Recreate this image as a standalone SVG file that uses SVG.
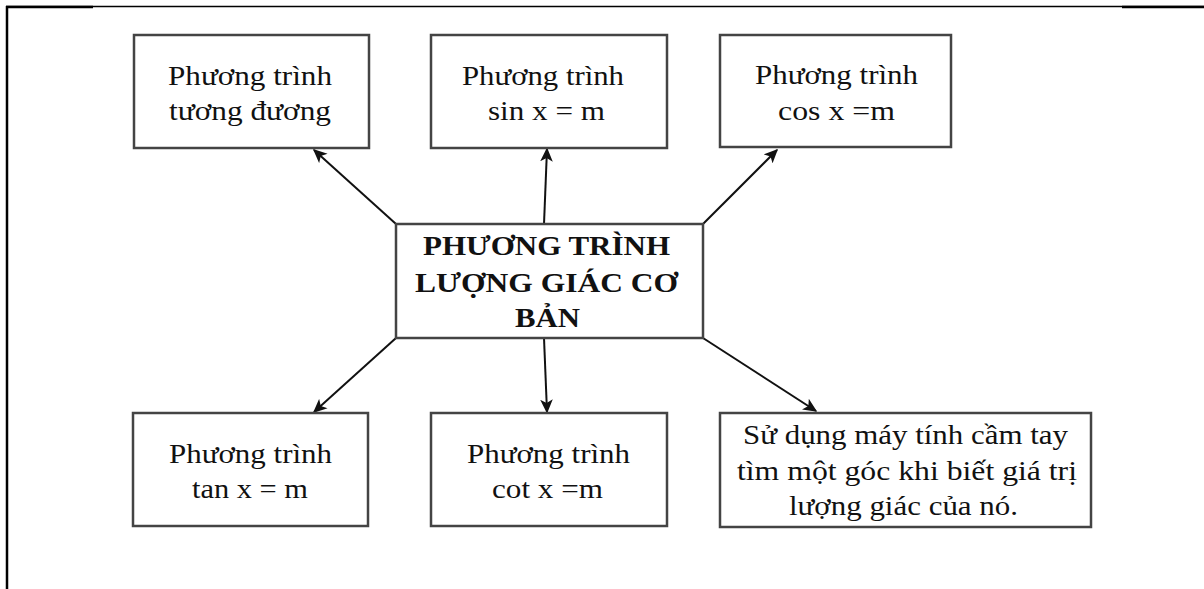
<svg xmlns="http://www.w3.org/2000/svg" width="1204" height="589" viewBox="0 0 1204 589">
<defs>
<style>
.box{fill:#fff;stroke:#444;stroke-width:2.5}
.t{font-family:"Liberation Serif","Times New Roman",serif;font-size:27px;fill:#111;text-anchor:middle}
.b{font-weight:bold}
.c{stroke:#111;stroke-width:2;fill:none;marker-end:url(#ah)}
.f{stroke:#000;fill:none}
</style>
<marker id="ah" viewBox="0 0 10 10" refX="9" refY="5" markerWidth="14" markerHeight="14" markerUnits="userSpaceOnUse" orient="auto">
<path d="M0,0.5 L10,5 L0,9.5 L2.5,5 z" fill="#111"/>
</marker>
</defs>
<rect width="1204" height="589" fill="#fff"/>
<g id="frame">
<line class="f" x1="6" y1="6.5" x2="1204" y2="6.5" stroke-width="1.5"/>
<line class="f" x1="6" y1="7" x2="93" y2="7" stroke-width="2.5"/>
<line class="f" x1="1122" y1="7" x2="1204" y2="7" stroke-width="2.5"/>
<line class="f" x1="7" y1="6" x2="7" y2="589" stroke-width="2.5"/>
</g>
<g id="connectors">
<line class="c" x1="396" y1="224" x2="314" y2="150"/>
<line class="c" x1="544" y1="224" x2="547" y2="149"/>
<line class="c" x1="703" y1="224" x2="777" y2="150"/>
<line class="c" x1="396" y1="338" x2="314" y2="412"/>
<line class="c" x1="544" y1="338" x2="547" y2="412"/>
<line class="c" x1="703" y1="338" x2="816" y2="411"/>
</g>
<g id="n1">
<rect class="box" x="134" y="35" width="235" height="113"/>
<text class="t" x="250" y="85" textLength="164" lengthAdjust="spacingAndGlyphs">Phương trình</text>
<text class="t" x="250" y="120" textLength="162" lengthAdjust="spacingAndGlyphs">tương đương</text>
</g>
<g id="n2">
<rect class="box" x="431" y="35" width="236" height="113"/>
<text class="t" x="543" y="85" textLength="162" lengthAdjust="spacingAndGlyphs">Phương trình</text>
<text class="t" x="546.5" y="120" textLength="117" lengthAdjust="spacingAndGlyphs">sin x = m</text>
</g>
<g id="n3">
<rect class="box" x="720" y="35" width="231" height="112"/>
<text class="t" x="836.5" y="84" textLength="163" lengthAdjust="spacingAndGlyphs">Phương trình</text>
<text class="t" x="836.5" y="120" textLength="117" lengthAdjust="spacingAndGlyphs">cos x =m</text>
</g>
<g id="center">
<rect class="box" x="396" y="224" width="307" height="114"/>
<text class="t b" x="546.5" y="255" textLength="247" lengthAdjust="spacingAndGlyphs">PHƯƠNG TRÌNH</text>
<text class="t b" x="546.5" y="292" textLength="263" lengthAdjust="spacingAndGlyphs">LƯỢNG GIÁC CƠ</text>
<text class="t b" x="547.5" y="327" textLength="65" lengthAdjust="spacingAndGlyphs">BẢN</text>
</g>
<g id="n4">
<rect class="box" x="133" y="413" width="235" height="113"/>
<text class="t" x="250.5" y="463" textLength="163" lengthAdjust="spacingAndGlyphs">Phương trình</text>
<text class="t" x="250" y="498" textLength="116" lengthAdjust="spacingAndGlyphs">tan x = m</text>
</g>
<g id="n5">
<rect class="box" x="431" y="413" width="236" height="113"/>
<text class="t" x="548.5" y="463" textLength="163" lengthAdjust="spacingAndGlyphs">Phương trình</text>
<text class="t" x="547.5" y="498" textLength="111" lengthAdjust="spacingAndGlyphs">cot x =m</text>
</g>
<g id="n6">
<rect class="box" x="720" y="413" width="371" height="114"/>
<text class="t" x="905.5" y="444" textLength="325" lengthAdjust="spacingAndGlyphs">Sử dụng máy tính cầm tay</text>
<text class="t" x="907" y="480" textLength="340" lengthAdjust="spacingAndGlyphs">tìm một góc khi biết giá trị</text>
<text class="t" x="903.5" y="515" textLength="229" lengthAdjust="spacingAndGlyphs">lượng giác của nó.</text>
</g>
</svg>
